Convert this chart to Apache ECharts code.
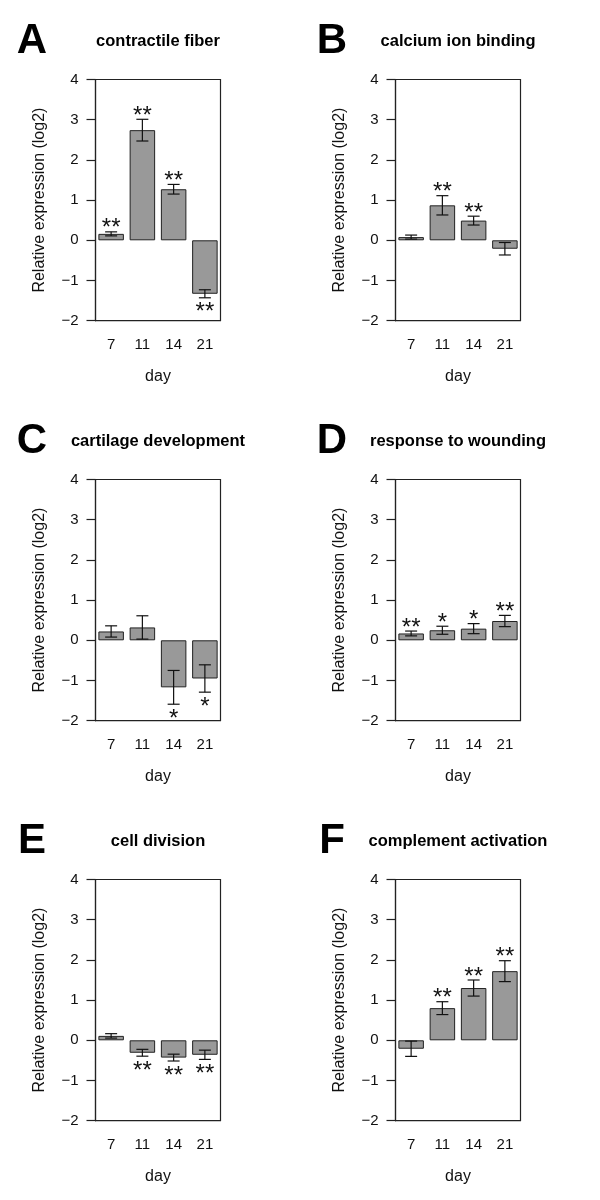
<!DOCTYPE html>
<html>
<head>
<meta charset="utf-8">
<script src="https://cdn.jsdelivr.net/npm/echarts@6/dist/echarts.min.js"></script>
<style>
html,body{margin:0;padding:0;background:#fff;}
#chart{width:600px;height:1200px;}
</style>
</head>
<body>
<div id="chart"></div>
<script>
// ---- data ----
const days = ['7', '11', '14', '21'];
const yTicks = [-2, -1, 0, 1, 2, 3, 4];

const panelLetters = ['A', 'B', 'C', 'D', 'E', 'F'];
const panelTitles = ['contractile fiber', 'calcium ion binding', 'cartilage development',
  'response to wounding', 'cell division', 'complement activation'];

const contractileMean = [0.16, 2.74, 1.27, -1.33];
const contractileErr  = [0.05, 0.27, 0.12, 0.10];
const contractileSig  = ['**', '**', '**', '**'];

const calciumMean = [0.08, 0.87, 0.49, -0.21];
const calciumErr  = [0.05, 0.24, 0.11, 0.155];
const calciumSig  = ['', '**', '**', ''];

const cartilageMean = [0.22, 0.32, -1.17, -0.95];
const cartilageErr  = [0.14, 0.29, 0.42, 0.34];
const cartilageSig  = ['', '', '*', '*'];

const woundingMean = [0.17, 0.25, 0.29, 0.48];
const woundingErr  = [0.06, 0.10, 0.125, 0.14];
const woundingSig  = ['**', '*', '*', '**'];

const divisionMean = [0.11, -0.31, -0.43, -0.36];
const divisionErr  = [0.055, 0.085, 0.085, 0.115];
const divisionSig  = ['', '**', '**', '**'];

const complementMean = [-0.21, 0.80, 1.30, 1.72];
const complementErr  = [0.19, 0.16, 0.20, 0.26];
const complementSig  = ['', '**', '**', '**'];

const means = [contractileMean, calciumMean, cartilageMean, woundingMean, divisionMean, complementMean];
const errs  = [contractileErr, calciumErr, cartilageErr, woundingErr, divisionErr, complementErr];
const sigs  = [contractileSig, calciumSig, cartilageSig, woundingSig, divisionSig, complementSig];

// ---- layout ----
const FONT = "'Liberation Sans', Arial, Helvetica, sans-serif";
const TXT = '#111';
const LINE = '#222';
const panelW = 300, panelH = 400;
const gLeft = 95.5, gTop = 79.5, gW = 125, gH = 241.2;

const grids = [], xAxes = [], yAxes = [], series = [], graphics = [];
const fmt = v => (v < 0 ? '\u2212' + Math.abs(v) : String(v));

for (let k = 0; k < 6; k++) {
  const ox = (k % 2) * panelW, oy = Math.floor(k / 2) * panelH;
  grids.push({
    left: ox + gLeft, top: oy + gTop, width: gW, height: gH,
    show: true, borderColor: LINE, borderWidth: 1.2, backgroundColor: 'transparent'
  });
  xAxes.push({
    type: 'category', gridIndex: k, data: days,
    boundaryGap: true,
    axisLine: { show: false }, axisTick: { show: false }, splitLine: { show: false },
    axisLabel: { color: TXT, fontFamily: FONT, fontSize: 15, margin: 17 },
    name: 'day', nameLocation: 'middle', nameGap: 48,
    nameTextStyle: { color: TXT, fontFamily: FONT, fontSize: 16 }
  });
  yAxes.push({
    type: 'value', gridIndex: k, min: yTicks[0], max: yTicks[yTicks.length - 1], interval: 1,
    axisLine: { show: true, lineStyle: { color: LINE, width: 1.2 } },
    axisTick: { show: true, length: 9, lineStyle: { color: LINE, width: 1.2 } },
    splitLine: { show: false },
    axisLabel: { color: TXT, fontFamily: FONT, fontSize: 15, margin: 17, formatter: fmt },
    name: 'Relative expression (log2)', nameLocation: 'middle', nameGap: 48,
    nameTextStyle: { color: TXT, fontFamily: FONT, fontSize: 16 }
  });
  series.push({
    type: 'bar', xAxisIndex: k, yAxisIndex: k, data: means[k], z: 2,
    barWidth: 25.5, silent: true, animation: false,
    itemStyle: { color: '#999999', borderColor: LINE, borderWidth: 1 }
  });
  const sig = sigs[k], mean = means[k];
  series.push({
    type: 'custom', xAxisIndex: k, yAxisIndex: k, silent: true, animation: false, z: 10,
    data: mean.map((m, i) => [i, m - errs[k][i], m + errs[k][i]]),
    encode: { x: 0, y: [1, 2] },
    renderItem: (params, api) => {
      const x = api.value(0), lo = api.value(1), hi = api.value(2);
      const pLo = api.coord([x, lo]), pHi = api.coord([x, hi]);
      const cx = pLo[0], cap = 6;
      const st = { stroke: '#111', lineWidth: 1.2 };
      const children = [
        { type: 'line', z2: 10, shape: { x1: cx, y1: pLo[1], x2: cx, y2: pHi[1] }, style: st },
        { type: 'line', z2: 10, shape: { x1: cx - cap, y1: pLo[1], x2: cx + cap, y2: pLo[1] }, style: st },
        { type: 'line', z2: 10, shape: { x1: cx - cap, y1: pHi[1], x2: cx + cap, y2: pHi[1] }, style: st }
      ];
      const s = sig[params.dataIndex];
      if (s) {
        const up = mean[params.dataIndex] >= 0;
        children.push({
          type: 'text', z2: 10,
          style: {
            text: s, x: cx, y: up ? pHi[1] - 3 : pLo[1] + 15,
            textAlign: 'center', textVerticalAlign: 'middle',
            font: '24px ' + FONT, fill: '#111'
          }
        });
      }
      return { type: 'group', children };
    }
  });
  graphics.push({
    type: 'text',
    style: { text: panelLetters[k], x: ox + 32, y: oy + 41, textAlign: 'center', textVerticalAlign: 'middle',
      font: 'bold 42px ' + FONT, fill: '#000' }
  });
  graphics.push({
    type: 'text',
    style: { text: panelTitles[k], x: ox + gLeft + gW / 2, y: oy + 41, textAlign: 'center', textVerticalAlign: 'middle',
      font: 'bold 16.5px ' + FONT, fill: '#000' }
  });
}

const chart = echarts.init(document.getElementById('chart'), null, { renderer: 'canvas' });
chart.setOption({
  backgroundColor: '#fff',
  animation: false,
  grid: grids, xAxis: xAxes, yAxis: yAxes, series: series,
  graphic: graphics
});
</script>
</body>
</html>
